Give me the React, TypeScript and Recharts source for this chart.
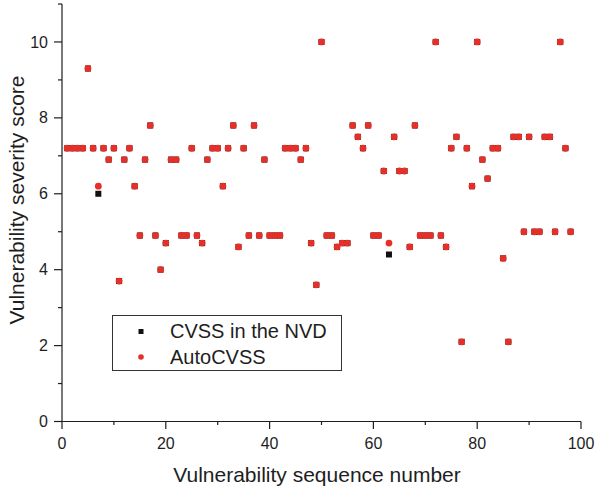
import React from 'react';
import { ScatterChart, Scatter, XAxis, YAxis, Legend, Label } from 'recharts';

const seqNumbers = [
  1, 2, 3, 4, 5, 6, 7, 8, 9, 10,
  11, 12, 13, 14, 15, 16, 17, 18, 19, 20,
  21, 22, 23, 24, 25, 26, 27, 28, 29, 30,
  31, 32, 33, 34, 35, 36, 37, 38, 39, 40,
  41, 42, 43, 44, 45, 46, 47, 48, 49, 50,
  51, 52, 53, 54, 55, 56, 57, 58, 59, 60,
  61, 62, 63, 64, 65, 66, 67, 68, 69, 70,
  71, 72, 73, 74, 75, 76, 77, 78, 79, 80,
  81, 82, 83, 84, 85, 86, 87, 88, 89, 90,
  91, 92, 93, 94, 95, 96, 97, 98,
];

// CVSS base scores published in the NVD
const nvdScores = [
  7.2, 7.2, 7.2, 7.2, 9.3, 7.2, 6.0, 7.2, 6.9, 7.2,
  3.7, 6.9, 7.2, 6.2, 4.9, 6.9, 7.8, 4.9, 4.0, 4.7,
  6.9, 6.9, 4.9, 4.9, 7.2, 4.9, 4.7, 6.9, 7.2, 7.2,
  6.2, 7.2, 7.8, 4.6, 7.2, 4.9, 7.8, 4.9, 6.9, 4.9,
  4.9, 4.9, 7.2, 7.2, 7.2, 6.9, 7.2, 4.7, 3.6, 10,
  4.9, 4.9, 4.6, 4.7, 4.7, 7.8, 7.5, 7.2, 7.8, 4.9,
  4.9, 6.6, 4.4, 7.5, 6.6, 6.6, 4.6, 7.8, 4.9, 4.9,
  4.9, 10, 4.9, 4.6, 7.2, 7.5, 2.1, 7.2, 6.2, 10,
  6.9, 6.4, 7.2, 7.2, 4.3, 2.1, 7.5, 7.5, 5.0, 7.5,
  5.0, 5.0, 7.5, 7.5, 5.0, 10, 7.2, 5.0,
];

// scores predicted by AutoCVSS
const autoScores = [
  7.2, 7.2, 7.2, 7.2, 9.3, 7.2, 6.2, 7.2, 6.9, 7.2,
  3.7, 6.9, 7.2, 6.2, 4.9, 6.9, 7.8, 4.9, 4.0, 4.7,
  6.9, 6.9, 4.9, 4.9, 7.2, 4.9, 4.7, 6.9, 7.2, 7.2,
  6.2, 7.2, 7.8, 4.6, 7.2, 4.9, 7.8, 4.9, 6.9, 4.9,
  4.9, 4.9, 7.2, 7.2, 7.2, 6.9, 7.2, 4.7, 3.6, 10,
  4.9, 4.9, 4.6, 4.7, 4.7, 7.8, 7.5, 7.2, 7.8, 4.9,
  4.9, 6.6, 4.7, 7.5, 6.6, 6.6, 4.6, 7.8, 4.9, 4.9,
  4.9, 10, 4.9, 4.6, 7.2, 7.5, 2.1, 7.2, 6.2, 10,
  6.9, 6.4, 7.2, 7.2, 4.3, 2.1, 7.5, 7.5, 5.0, 7.5,
  5.0, 5.0, 7.5, 7.5, 5.0, 10, 7.2, 5.0,
];

const xTicks = [0, 10, 20, 30, 40, 50, 60, 70, 80, 90, 100];
const yTicks = [0, 1, 2, 3, 4, 5, 6, 7, 8, 9, 10, 11];

const nvdData = seqNumbers.map((x, i) => ({ x, y: nvdScores[i] }));
const autoData = seqNumbers.map((x, i) => ({ x, y: autoScores[i] }));

const FONT = "'Liberation Sans', Arial, Helvetica, sans-serif";
const INK = '#1e1e1e';
const RED = '#e5302a';

const XTick = (props: any) => {
  const { x, y, payload } = props;
  const major = payload.value % 20 === 0;
  return (
    <g>
      <line x1={x} x2={x} y1={y} y2={y + (major ? 7.5 : 3.5)} stroke={INK} strokeWidth={1.2} />
      {major && (
        <text x={x} y={y + 27.8} textAnchor="middle" fontSize={16} fontFamily={FONT} fill={INK}>
          {payload.value}
        </text>
      )}
    </g>
  );
};

const YTick = (props: any) => {
  const { x, y, payload } = props;
  const major = payload.value % 2 === 0;
  return (
    <g>
      <line x1={x - (major ? 8 : 4)} x2={x} y1={y} y2={y} stroke={INK} strokeWidth={1.2} />
      {major && (
        <text x={x - 14} y={y} dy="0.35em" textAnchor="end" fontSize={16} fontFamily={FONT} fill={INK}>
          {payload.value}
        </text>
      )}
    </g>
  );
};

const NvdMarker = (props: any) => (
  <rect x={props.cx - 3} y={props.cy - 3} width={6} height={6} fill="#111" />
);

const AutoMarker = (props: any) => (
  <circle cx={props.cx} cy={props.cy} r={3.4} fill={RED} />
);

const LegendBox = () => (
  <div style={{ width: 230, height: 56, border: '1.2px solid #333', boxSizing: 'border-box', background: '#fff' }}>
    <svg width={228} height={54}>
      <rect x={25.5} y={13} width={5} height={5} fill="#111" />
      <text x={57} y={22} fontSize={20} fontFamily={FONT} fill={INK}>CVSS in the NVD</text>
      <circle cx={28} cy={41} r={2.8} fill={RED} />
      <text x={57} y={47.5} fontSize={20} fontFamily={FONT} fill={INK}>AutoCVSS</text>
    </svg>
  </div>
);

export default function App() {
  return (
    <div style={{ position: 'absolute', left: 0, top: 0, background: '#fff' }}>
      <ScatterChart width={596} height={489} margin={{ top: 4, right: 15, bottom: 0, left: 0 }}>
        <XAxis
          type="number"
          dataKey="x"
          domain={[0, 100]}
          ticks={xTicks}
          interval={0}
          height={67.5}
          tickSize={0}
          tickMargin={0}
          tickLine={false}
          tick={<XTick />}
          axisLine={{ stroke: INK, strokeWidth: 1.2 }}
        >
          <Label
            content={() => (
              <text x={317} y={481.7} textAnchor="middle" fontSize={21} fontFamily={FONT} fill={INK}>
                Vulnerability sequence number
              </text>
            )}
          />
        </XAxis>
        <YAxis
          type="number"
          dataKey="y"
          domain={[0, 11]}
          ticks={yTicks}
          interval={0}
          width={62}
          tickSize={0}
          tickMargin={0}
          tickLine={false}
          tick={<YTick />}
          axisLine={{ stroke: INK, strokeWidth: 1.2 }}
        >
          <Label
            content={() => (
              <text
                x={24}
                y={200}
                textAnchor="middle"
                fontSize={21}
                fontFamily={FONT}
                fill={INK}
                transform="rotate(-90, 24, 200)"
              >
                Vulnerability severity score
              </text>
            )}
          />
        </YAxis>
        <Legend
          layout="horizontal"
          verticalAlign="middle"
          align="center"
          content={() => <LegendBox />}
          wrapperStyle={{ left: 112, top: 315, width: 230, height: 56 }}
        />
        <Scatter name="CVSS in the NVD" data={nvdData} shape={NvdMarker} isAnimationActive={false} />
        <Scatter name="AutoCVSS" data={autoData} shape={AutoMarker} isAnimationActive={false} />
      </ScatterChart>
    </div>
  );
}
